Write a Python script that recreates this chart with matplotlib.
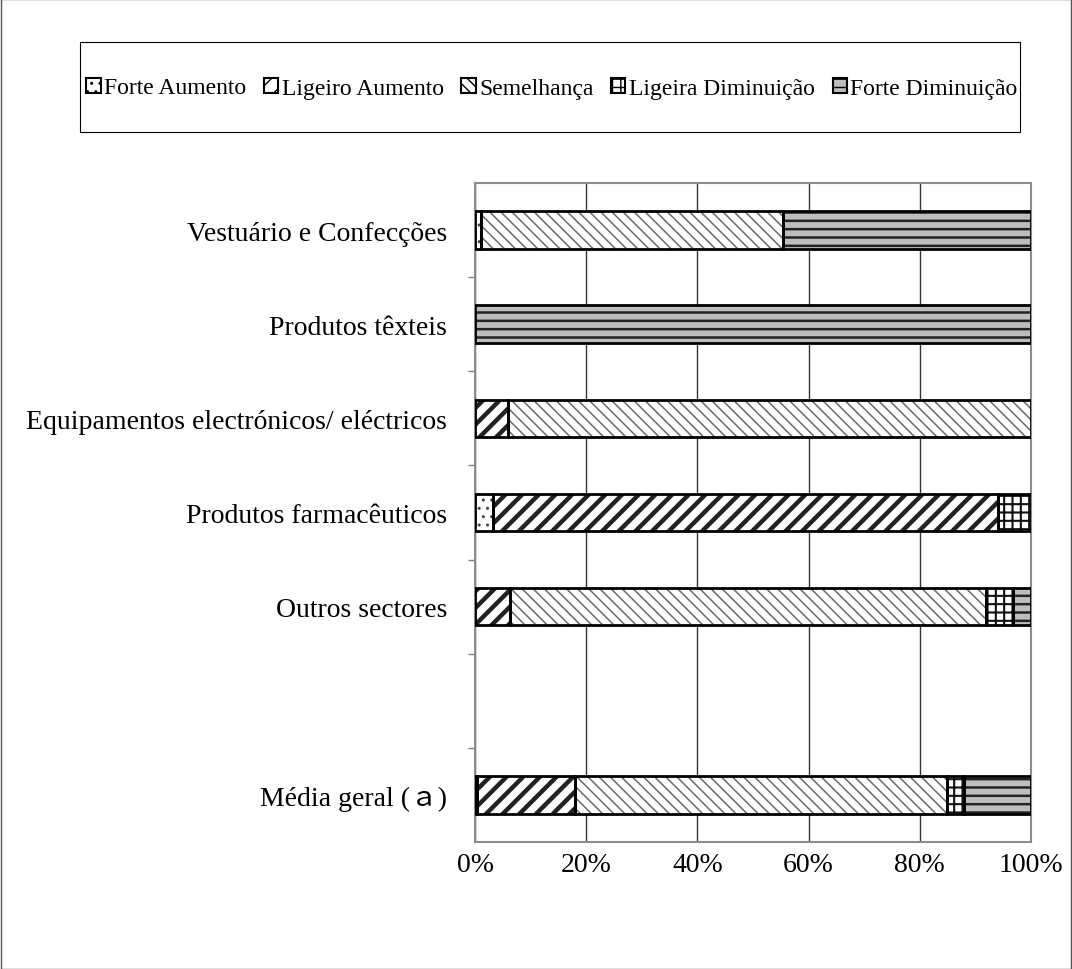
import numpy as np
import matplotlib
matplotlib.use("Agg")
import matplotlib.pyplot as plt
from matplotlib.patches import Patch, Rectangle

plt.rcParams['font.family'] = ['Liberation Serif', 'Noto Sans CJK JP']
plt.rcParams['hatch.linewidth'] = 1.0

categories = ['Vestuário e Confecções', 'Produtos têxteis',
              'Equipamentos electrónicos/ eléctricos', 'Produtos farmacêuticos',
              'Outros sectores', '', 'Média geral (ａ)']
series = ['Forte Aumento', 'Ligeiro Aumento', 'Semelhança',
          'Ligeira Diminuição', 'Forte Diminuição']

forte_aumento = [1.1, 0, 0, 3.2, 0, 0, 0.4]
ligeiro_aumento = [0, 0, 5.9, 90.9, 6.3, 0, 17.6]
semelhanca = [54.3, 0, 94.1, 0, 85.6, 0, 66.9]
ligeira_diminuicao = [0, 0, 0, 5.9, 4.9, 0, 3.1]
forte_diminuicao = [44.6, 100, 0, 0, 3.2, 0, 12.0]

values = [forte_aumento, ligeiro_aumento, semelhanca, ligeira_diminuicao, forte_diminuicao]

# fill, hatch, hatch colour, hatch line width
styles = [
    ('white', '..', '#444444', 1.0),
    ('white', '//', '#222222', 3.2),
    ('white', '\\\\\\', '#6a6a6a', 1.1),
    ('white', '++', '#111111', 1.5),
    ('#bdbdbd', '--', '#222222', 1.8),
]

fig = plt.figure(figsize=(10.72, 9.7), dpi=100)
ax = fig.add_axes([475 / 1072, 1 - 843 / 970, 556 / 1072, 659 / 970])

y = np.arange(len(categories))
left = np.zeros(len(categories))
for vals, (fc, hatch, hc, hlw) in zip(values, styles):
    vals = np.array(vals, dtype=float)
    keep = vals > 0
    bars = ax.barh(y[keep], vals[keep], left=left[keep], height=0.4, color=fc,
                   edgecolor=hc, hatch=hatch, linewidth=0, zorder=3)
    for b in bars:
        if hasattr(b, 'set_hatch_linewidth'):
            b.set_hatch_linewidth(hlw)
    # black outline drawn on top of the hatched fill
    ax.barh(y[keep], vals[keep], left=left[keep], height=0.4, fill=False,
            edgecolor='black', linewidth=2, zorder=4)
    left += vals

ax.set_xlim(0, 100)
ax.set_ylim(len(categories) - 0.5, -0.5)
ax.set_xticks([0, 20, 40, 60, 80, 100])
ax.set_xticklabels(['0%', '20%', '40%', '60%', '80%', '100%'], fontsize=20)
ax.set_yticks(y)
ax.set_yticklabels(categories, fontsize=20)
ax.set_yticks(np.arange(0.5, len(categories) - 1, 1.0), minor=True)
ax.tick_params(axis='x', length=0, pad=7)
ax.tick_params(axis='y', which='major', length=0, pad=20)
ax.tick_params(axis='y', which='minor', length=5, color='#808080', width=1)
ax.xaxis.grid(True, color='#333333', linewidth=1, zorder=0)
for s in ax.spines.values():
    s.set_color('#8c8c8c')
    s.set_linewidth(1.5)

# legend box
fig.patches.append(Rectangle((80 / 1072, 1 - 133 / 970), 940 / 1072, 90 / 970,
                             transform=fig.transFigure, fill=False,
                             edgecolor='black', linewidth=0.8))
handles = [Patch(facecolor=fc, edgecolor='black', hatch=h, linewidth=1.5)
           for fc, h, hc, hlw in styles]
fig.legend(handles, series, loc='center', bbox_to_anchor=(552 / 1072, 1 - 89 / 970),
           ncol=5, frameon=False, fontsize=17, handlelength=0.6, handleheight=0.6,
           handletextpad=0.15, columnspacing=0.75)

fig.patches.append(Rectangle((0.0005, 0.0005), 0.999, 0.999, transform=fig.transFigure,
                             fill=False, edgecolor='#555555', linewidth=1))

fig.savefig('out.png', dpi=100)
